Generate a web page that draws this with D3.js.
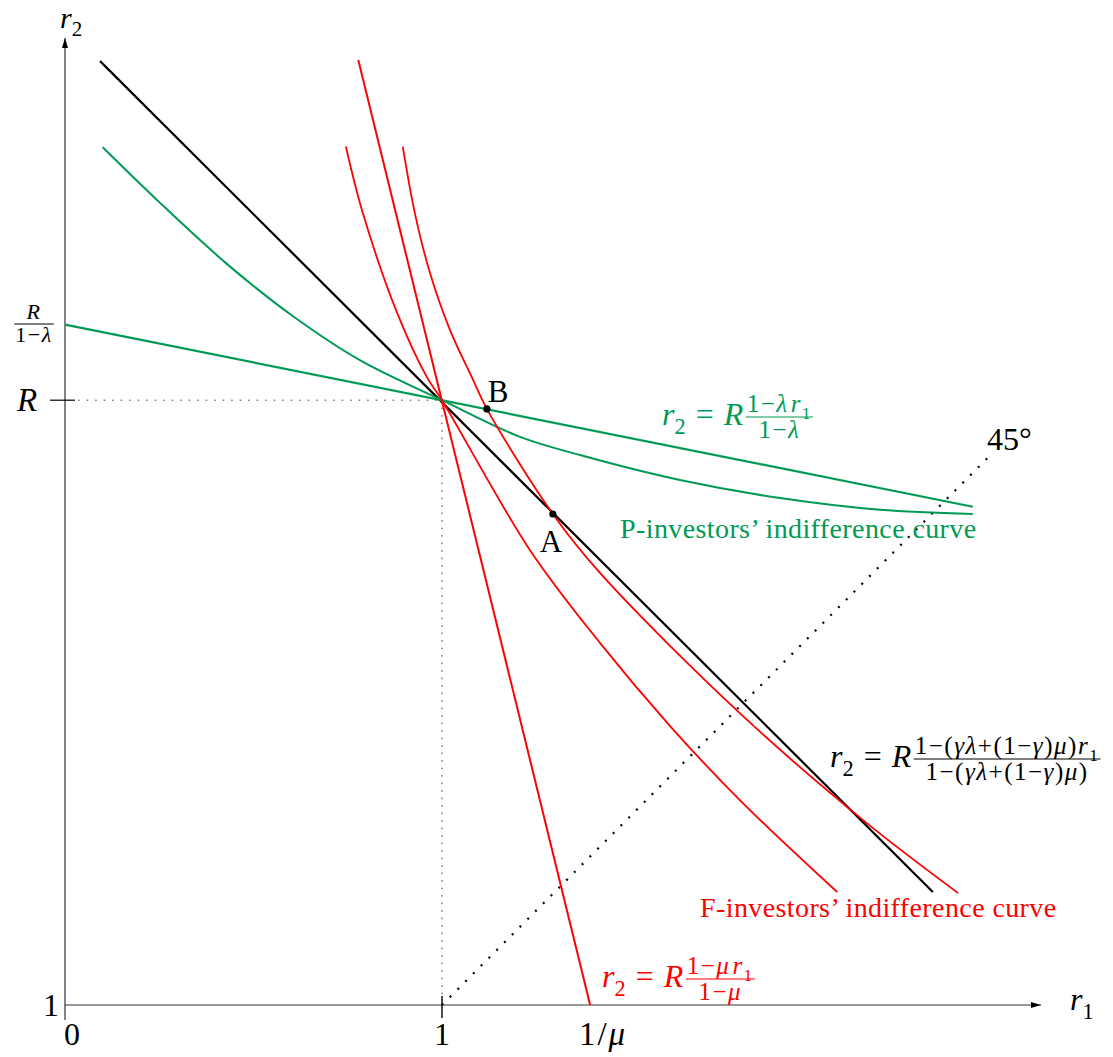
<!DOCTYPE html>
<html>
<head>
<meta charset="utf-8">
<script src="https://cdn.jsdelivr.net/npm/d3@7"></script>
<style>
  body { margin: 0; background: #fff; }
  text { font-family: "Liberation Serif", "Times New Roman", serif; }
</style>
</head>
<body>
<script>
// values (r1 across, r2 up; R = 2.6 on this scale)
const blackLine = [[0.093, 3.497], [2.302, 1.299]];
const greenLine = [[0, 2.8], [2.408, 2.318]];
const redLine = [[0.778, 3.5], [1.393, 1.0]];
const line45 = [[1, 1], [2.45, 2.45]];

const pCurve = [
  [0.100, 3.269], [0.252, 3.122], [0.430, 2.960], [0.605, 2.822], [0.782, 2.706],
  [1.0, 2.6], [1.207, 2.503], [1.366, 2.455], [1.631, 2.389], [1.897, 2.341],
  [2.162, 2.310], [2.408, 2.299]
];
const fCurveLow = [
  [0.745, 3.271], [0.790, 3.095], [0.881, 2.831], [0.960, 2.661], [1.0, 2.6],
  [1.233, 2.204], [1.419, 1.958], [1.605, 1.738], [1.790, 1.542], [2.048, 1.299]
];
const fCurveHigh = [
  [0.896, 3.271], [0.928, 3.095], [0.968, 2.937], [1.021, 2.786], [1.080, 2.659],
  [1.119, 2.577], [1.294, 2.299], [1.419, 2.143], [1.790, 1.772], [2.117, 1.489],
  [2.369, 1.296]
];

const pointNames = ["A", "B"];
const pointR1 = [1.294, 1.119];
const pointR2 = [2.299, 2.577];

const R = 2.6;
const xTickValues = [1];
const yTickValues = [R];

const green = "#009a55";
const red = "#ff0000";

// scales
const width = 1113, height = 1057;
const x = d3.scaleLinear().domain([0, 2.6]).range([65, 65 + 2.6 * 377]);
const y = d3.scaleLinear().domain([1, 3.55]).range([1005, 1005 - 2.55 * 378]);

const svg = d3.select("body").append("svg")
  .attr("width", width)
  .attr("height", height);

// math text helpers
const I = t => ({ t, i: true });
const N = t => ({ t });
const S = t => ({ t, sub: true });

function mathText(parent, px, py, parts, size, color, anchor, spacing) {
  const t = parent.append("text")
    .attr("x", px).attr("y", py)
    .attr("font-size", size)
    .attr("fill", color)
    .attr("text-anchor", anchor || "start");
  if (spacing) t.attr("letter-spacing", spacing);
  let shift = 0;
  parts.forEach(p => {
    const s = t.append("tspan").text(p.t);
    if (p.i) s.attr("font-style", "italic");
    const want = p.sub ? size * 0.28 : 0;
    if (want !== shift) { s.attr("dy", want - shift); shift = want; }
    if (p.sub) s.attr("font-size", size * 0.7);
    if (p.dx) s.attr("dx", p.dx);
  });
  return t;
}

function fraction(parent, cx, barY, num, den, size, color, spacing) {
  const n = mathText(parent, cx, barY - size * 0.22, num, size, color, "middle", spacing);
  const d = mathText(parent, cx, barY + size * 0.84, den, size, color, "middle", spacing);
  const w = Math.max(n.node().getBBox().width, d.node().getBBox().width);
  parent.append("line")
    .attr("x1", cx - w / 2 - 1).attr("x2", cx + w / 2 + 1)
    .attr("y1", barY).attr("y2", barY)
    .attr("stroke", color).attr("stroke-width", 1.1);
  return w;
}

// r2 = R * num/den
function equation(parent, px, py, num, den, color) {
  const lhs = mathText(parent, px, py,
    [I("r"), S("2"), { t: "=", dx: 10 }, { t: "R", i: true, dx: 10 }], 32, color);
  const lw = lhs.node().getBBox().width;
  const g = parent.append("g");
  const w = fraction(g, 0, py - 8, num, den, 25, color, 1.5);
  g.attr("transform", `translate(${px + lw + 3 + w / 2},0)`);
}

// dotted guides
const line = d3.line().x(d => x(d[0])).y(d => y(d[1]));
svg.append("path")
  .attr("d", line([[0.035, R], [1, R]]))
  .attr("stroke", "#333").attr("stroke-width", 1)
  .attr("stroke-dasharray", "1.5,7").attr("fill", "none");
svg.append("path")
  .attr("d", line([[1, R], [1, 1.02]]))
  .attr("stroke", "#333").attr("stroke-width", 1)
  .attr("stroke-dasharray", "1.5,6").attr("fill", "none");
svg.append("path")
  .attr("d", line(line45))
  .attr("stroke", "#000").attr("stroke-width", 2.2)
  .attr("stroke-dasharray", "2,9").attr("fill", "none");

// axes
svg.append("defs").append("marker")
  .attr("id", "arrow")
  .attr("viewBox", "0 0 10 6")
  .attr("refX", 10).attr("refY", 3)
  .attr("markerWidth", 10).attr("markerHeight", 6)
  .attr("markerUnits", "userSpaceOnUse")
  .attr("orient", "auto")
  .append("path").attr("d", "M0,0L10,3L0,6Z").attr("fill", "#000");

svg.append("line")
  .attr("x1", x(0)).attr("x2", 1041)
  .attr("y1", y(1)).attr("y2", y(1))
  .attr("stroke", "#333").attr("stroke-width", 1.2)
  .attr("marker-end", "url(#arrow)");
svg.append("line")
  .attr("x1", x(0)).attr("x2", x(0))
  .attr("y1", y(1) + 15).attr("y2", 38)
  .attr("stroke", "#333").attr("stroke-width", 1.2)
  .attr("marker-end", "url(#arrow)");

svg.selectAll(".xtick").data(xTickValues).enter().append("line")
  .attr("x1", d => x(d)).attr("x2", d => x(d))
  .attr("y1", y(1) - 9).attr("y2", y(1) + 13)
  .attr("stroke", "#000").attr("stroke-width", 1.4);
svg.selectAll(".ytick").data(yTickValues).enter().append("line")
  .attr("x1", x(0) - 15).attr("x2", x(0) + 10)
  .attr("y1", d => y(d)).attr("y2", d => y(d))
  .attr("stroke", "#000").attr("stroke-width", 1.2);

// tick labels
mathText(svg, x(0) + 7, 1045, [N("0")], 32, "#000", "middle");
mathText(svg, x(1), 1045, [N("1")], 32, "#000", "middle");
mathText(svg, 603, 1045, [N("1/"), I("μ")], 33, "#000", "middle", 2);
mathText(svg, 51, 1016, [N("1")], 32, "#000", "middle");
mathText(svg, 27, 411, [I("R")], 33, "#000", "middle");
fraction(svg, 34, 324, [I("R")], [N("1−"), I("λ")], 22, "#000", 1.5);

// axis titles
mathText(svg, 60, 28, [I("r"), S("2")], 30, "#000");
mathText(svg, 1070, 1010, [I("r"), S("1")], 32, "#000");

// straight lines
svg.append("path").attr("d", line(blackLine))
  .attr("stroke", "#000").attr("stroke-width", 2.2).attr("fill", "none");
svg.append("path").attr("d", line(greenLine))
  .attr("stroke", green).attr("stroke-width", 2.2).attr("fill", "none");
svg.append("path").attr("d", line(redLine))
  .attr("stroke", red).attr("stroke-width", 2).attr("fill", "none");

// indifference curves
const curve = d3.line().x(d => x(d[0])).y(d => y(d[1])).curve(d3.curveCatmullRom.alpha(0.5));
svg.append("path").attr("d", curve(pCurve))
  .attr("stroke", green).attr("stroke-width", 2).attr("fill", "none");
svg.append("path").attr("d", curve(fCurveLow))
  .attr("stroke", red).attr("stroke-width", 1.8).attr("fill", "none");
svg.append("path").attr("d", curve(fCurveHigh))
  .attr("stroke", red).attr("stroke-width", 1.8).attr("fill", "none");

// points A, B
const pts = pointNames.map((n, i) => ({ n, r1: pointR1[i], r2: pointR2[i] }));
svg.selectAll(".pt").data(pts).enter().append("circle")
  .attr("cx", d => x(d.r1)).attr("cy", d => y(d.r2))
  .attr("r", 3.6).attr("fill", "#000");
mathText(svg, x(pointR1[1]) + 1, y(pointR2[1]) - 7, [N("B")], 31, "#000");
mathText(svg, x(pointR1[0]) - 2, y(pointR2[0]) + 38, [N("A")], 31, "#000", "middle");

// annotations
equation(svg, 662, 425, [N("1−"), I("λ"), { t: "r", i: true, dx: 2 }, S("1")], [N("1−"), I("λ")], green);
mathText(svg, 620, 538, [N("P-investors’ indifference curve")], 28, green, "start", 0.4);

equation(svg, 830, 767,
  [N("1−("), I("γλ"), N("+(1−"), I("γ"), N(")"), I("μ"), N(")"), I("r"), S("1")],
  [N("1−("), I("γλ"), N("+(1−"), I("γ"), N(")"), I("μ"), N(")")], "#000");

mathText(svg, 700, 917, [N("F-investors’ indifference curve")], 28, red, "start", 0.4);
equation(svg, 602, 987, [N("1−"), I("μ"), { t: "r", i: true, dx: 2 }, S("1")], [N("1−"), I("μ")], red);

mathText(svg, 987, 450, [N("45°")], 32, "#000");
</script>
</body>
</html>
